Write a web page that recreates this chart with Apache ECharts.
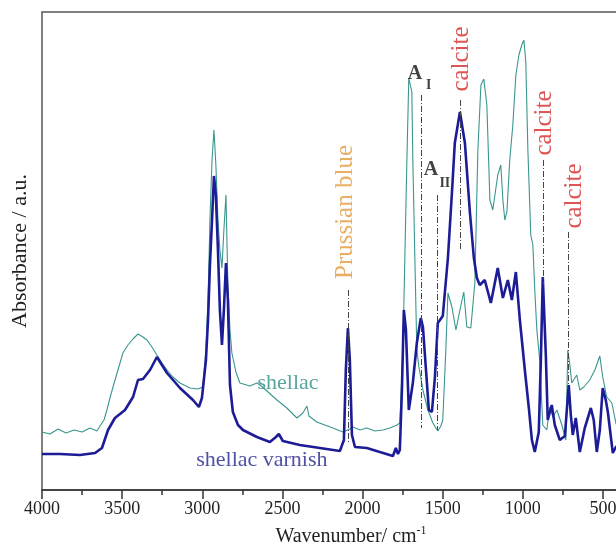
<!DOCTYPE html>
<html>
<head>
<meta charset="utf-8">
<script src="https://cdn.jsdelivr.net/npm/echarts@6/dist/echarts.min.js"></script>
<style>
html,body{margin:0;padding:0;background:#fff;}
#chart{width:616px;height:553px;}
</style>
</head>
<body>
<div id="chart"></div>
<script>
// ---- data (wavenumber in cm-1, absorbance in arbitrary units) ----
const varnishWn = [4000,3888,3763,3669,3626,3588,3545,3482,3432,3401,3370,3326,3283,3220,3139,3058,3021,3002,2977,2964,2952,2939,2927,2915,2902,2890,2877,2865,2852,2840,2827,2809,2777,2746,2659,2578,2540,2522,2497,2391,2266,2141,2116,2104,2091,2079,2066,2047,1973,1892,1810,1792,1779,1767,1754,1742,1729,1711,1686,1661,1636,1623,1598,1586,1567,1548,1530,1499,1467,1442,1424,1392,1361,1330,1305,1286,1268,1237,1199,1156,1124,1093,1068,1043,1018,987,962,943,925,900,887,875,856,844,819,800,769,737,725,713,700,688,669,644,613,575,557,538,519,501,482,469,438,419,400];
const varnishAbs = [36,36,35,37,42,60,72,80,93,110,111,120,133,117,102,90,83,92,130,170,225,270,314,295,240,180,145,180,227,190,105,78,65,60,53,48,53,56,49,45,42,39,50,120,162,130,55,43,42,38,34,42,36,40,100,180,160,80,107,147,172,163,107,80,78,113,167,174,232,297,347,378,347,278,232,212,205,210,187,222,192,210,190,218,170,120,82,50,38,58,130,213,135,70,85,65,50,54,80,105,75,55,72,38,62,82,70,38,60,102,90,78,37,43,45];

const shellacWn = [4000,3950,3900,3850,3800,3750,3701,3657,3638,3613,3595,3576,3557,3526,3495,3464,3432,3401,3370,3345,3314,3283,3251,3220,3183,3139,3077,3027,2996,2977,2964,2952,2939,2927,2915,2902,2890,2877,2865,2852,2840,2827,2815,2790,2765,2703,2659,2640,2603,2534,2472,2409,2372,2347,2334,2285,2235,2185,2122,2079,2060,2016,1973,1923,1873,1829,1785,1767,1748,1736,1723,1711,1692,1686,1673,1661,1648,1623,1592,1561,1542,1530,1511,1499,1480,1467,1442,1417,1392,1368,1349,1324,1299,1280,1261,1243,1224,1205,1187,1156,1137,1124,1112,1099,1081,1062,1043,1024,1006,993,981,968,950,937,925,912,894,875,850,831,812,787,756,731,719,706,694,663,644,619,582,550,519,501,476,444,419,400];
const shellacAbs = [58,56,61,57,60,58,62,59,64,70,80,92,103,120,137,145,151,156,153,150,143,135,127,120,113,107,102,101,103,140,190,270,330,360,325,270,240,222,260,295,205,160,137,118,107,104,107,105,100,90,82,72,77,84,74,68,65,62,58,61,63,60,62,59,60,62,65,67,140,230,330,412,398,330,230,140,123,100,80,67,62,59,64,70,140,197,183,160,180,198,163,162,207,340,405,411,385,290,280,315,325,290,270,278,330,365,415,435,445,450,428,340,255,245,200,160,130,65,60,83,73,80,65,50,140,125,107,115,100,103,110,120,134,113,93,87,67,60];

const xTickValues = [4000,3500,3000,2500,2000,1500,1000,500];

// band assignments (wavenumber of the marked band)
const bandNames = ['Prussian blue','A_I','A_II','calcite','calcite','calcite'];
const bandWn = [2091,1636,1536,1392,875,713];

function zip(a,b){const n=Math.min(a.length,b.length);const r=[];for(let i=0;i<n;i++)r.push([a[i],b[i]]);return r;}

const serif = 'Liberation Serif, Times New Roman, serif';
const dashDot = [6,2,1,2];
const chart = echarts.init(document.getElementById('chart'), null, {renderer:'canvas'});

function vline(x, y1, y2){
  return [{coord:[x,y1]},{coord:[x,y2]}];
}
function lab(x, y, text, color, size, rotate, weight){
  return {value:[x,y], label:{show:true, formatter:text, color:color, fontSize:size, fontFamily:serif, rotate:rotate||0, fontWeight:weight||'normal', position:'inside', align:'center', verticalAlign:'middle'}};
}

const option = {
  animation:false,
  backgroundColor:'#fff',
  grid:{left:42, right:-67, top:12, bottom:63, show:true, borderColor:'#555', borderWidth:1.5, containLabel:false, outerBoundsMode:'none'},
  xAxis:{
    type:'value', min:0, max:4000, interval:500, inverse:true,
    axisLine:{show:true, onZero:false, lineStyle:{color:'#333', width:1.5}},
    axisTick:{show:true, inside:false, length:9, lineStyle:{color:'#333', width:1.5}},
    minorTick:{show:true, splitNumber:2, length:5, lineStyle:{color:'#333', width:1.5}},
    axisLabel:{color:'#222', fontSize:18, fontFamily:serif, margin:10,
      formatter:function(v){return xTickValues.indexOf(v)>=0 ? String(v) : '';}},
    splitLine:{show:false}, minorSplitLine:{show:false}
  },
  yAxis:{
    type:'value', min:0, max:478,
    axisLine:{show:true, lineStyle:{color:'#333', width:2}},
    axisTick:{show:false}, axisLabel:{show:false}, splitLine:{show:false},
    name:'Absorbance / a.u.', nameLocation:'middle', nameGap:11, nameRotate:90,
    nameTextStyle:{fontSize:22, fontFamily:serif, color:'#222'}
  },
  graphic:[{
    type:'text', x:351, y:537,
    style:{text:'{a|Wavenumber/ cm}{b|-1}', align:'center', verticalAlign:'middle',
      rich:{a:{fontSize:20, fontFamily:serif, fill:'#222', lineHeight:24},
            b:{fontSize:12, fontFamily:serif, fill:'#222', verticalAlign:'top', lineHeight:24}}}
  }],
  series:[
    {
      name:'shellac', type:'line', data:zip(shellacWn, shellacAbs), showSymbol:false, symbol:'none',
      lineStyle:{color:'#3a968e', width:1.1}, z:2
    },
    {
      name:'shellac varnish', type:'line', data:zip(varnishWn, varnishAbs), showSymbol:false, symbol:'none',
      lineStyle:{color:'#1c1c96', width:2.6}, z:3
    },
    {
      name:'annotations', type:'scatter', symbolSize:0, z:5, silent:true,
      data:[
        lab(2104, 278, 'Prussian blue', '#e39a3c', 25, 90),
        lab(1380, 431, 'calcite', '#d42a2a', 25, 90),
        lab(862, 367, 'calcite', '#d42a2a', 25, 90),
        lab(675, 294, 'calcite', '#d42a2a', 25, 90),
        lab(1673, 416, 'A', '#111', 20, 0, 'bold'),
        lab(1586, 405, 'I', '#111', 14, 0, 'bold'),
        lab(1573, 320, 'A', '#111', 20, 0, 'bold'),
        lab(1486, 307, 'II', '#111', 14, 0, 'bold'),
        lab(2465, 107, 'shellac', '#2e8f86', 22, 0),
        lab(2628, 30, 'shellac varnish', '#23238f', 22, 0)
      ],
      markLine:{
        silent:true, symbol:['none','none'], label:{show:false},
        lineStyle:{color:'#444', width:1, type:dashDot},
        data:[
          vline(bandWn[0], 200, 47),
          vline(bandWn[1], 395, 62),
          vline(bandWn[2], 295, 60),
          vline(bandWn[3], 390, 240),
          vline(bandWn[4], 330, 205),
          vline(bandWn[5], 258, 105)
        ]
      }
    }
  ]
};
chart.setOption(option);
</script>
</body>
</html>
